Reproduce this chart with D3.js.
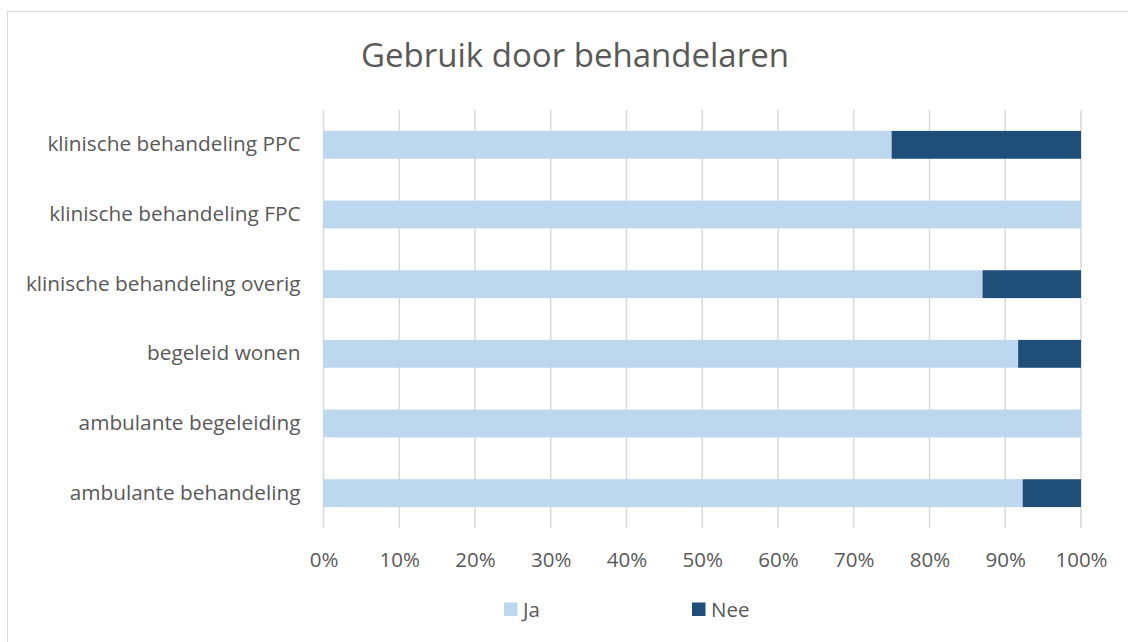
<!DOCTYPE html>
<html>
<head>
<meta charset="utf-8">
<script src="https://cdn.jsdelivr.net/npm/d3@7"></script>
<style>
  body { margin: 0; background: #fff; }
  text { font-family: "Open Sans", sans-serif; fill: #595959; }
</style>
</head>
<body>
<div id="chart"></div>
<script>
// data
const categories = [
  "klinische behandeling PPC",
  "klinische behandeling FPC",
  "klinische behandeling overig",
  "begeleid wonen",
  "ambulante begeleiding",
  "ambulante behandeling"
];
const ja = [0.75, 1.0, 0.87, 0.917, 1.0, 0.923];
const nee = [0.25, 0.0, 0.13, 0.083, 0.0, 0.077];
const seriesNames = ["Ja", "Nee"];
const ticks = [0, 0.1, 0.2, 0.3, 0.4, 0.5, 0.6, 0.7, 0.8, 0.9, 1.0];

// constants
const w = 1128;
const h = 642;
const plot = { left: 323.5, right: 1081, top: 110, bottom: 528 };
const colors = ["#bdd7ee", "#1f4e79"];

const svg = d3.select("#chart")
  .append("svg")
  .attr("width", w)
  .attr("height", h);

// chart border
svg.append("rect")
  .attr("x", 7.5)
  .attr("y", 11.5)
  .attr("width", w + 20)
  .attr("height", h + 20)
  .attr("fill", "#fff")
  .attr("stroke", "#d9d9d9");

// title
svg.append("text")
  .attr("x", 575)
  .attr("y", 67)
  .attr("text-anchor", "middle")
  .style("font-size", "33px")
  .text("Gebruik door behandelaren");

// scales
const xScale = d3.scaleLinear()
  .domain([0, 1])
  .range([plot.left, plot.right]);

const yScale = d3.scaleBand()
  .domain(categories)
  .range([plot.top, plot.bottom])
  .paddingInner(0.6)
  .paddingOuter(0.3);

// gridlines
svg.append("g")
  .selectAll("line")
  .data(ticks)
  .enter()
  .append("line")
  .attr("x1", (d) => xScale(d))
  .attr("x2", (d) => xScale(d))
  .attr("y1", plot.top)
  .attr("y2", plot.bottom)
  .attr("stroke", "#d9d9d9")
  .attr("stroke-width", 1.5);

// x axis labels
const xAxis = d3.axisBottom(xScale)
  .tickValues(ticks)
  .tickFormat(d3.format(".0%"))
  .tickSize(0)
  .tickPadding(0);
const gx = svg.append("g")
  .attr("transform", "translate(0," + (plot.bottom + 39) + ")")
  .call(xAxis);
gx.select(".domain").remove();
gx.selectAll("text")
  .attr("dy", 0)
  .attr("fill", "#595959")
  .style("font-size", "20.5px")
  .style("font-family", "Open Sans, sans-serif");

// y axis labels
const yAxis = d3.axisLeft(yScale).tickSize(0).tickPadding(23);
const gy = svg.append("g")
  .attr("transform", "translate(" + plot.left + ",0)")
  .call(yAxis);
gy.select(".domain").remove();
gy.selectAll("text")
  .attr("fill", "#595959")
  .style("font-size", "20.8px")
  .style("font-family", "Open Sans, sans-serif");

// stacked bars
const stacked = categories.map((c, i) => ({ cat: c, values: [ja[i], nee[i]] }));
const rows = svg.append("g")
  .selectAll("g")
  .data(stacked)
  .enter()
  .append("g");
rows.selectAll("rect")
  .data((d) => {
    let acc = 0;
    return d.values.map((v, k) => {
      const seg = { cat: d.cat, x0: acc, x1: acc + v, k: k };
      acc += v;
      return seg;
    });
  })
  .enter()
  .append("rect")
  .attr("x", (d) => xScale(d.x0))
  .attr("y", (d) => yScale(d.cat))
  .attr("width", (d) => xScale(d.x1) - xScale(d.x0))
  .attr("height", yScale.bandwidth())
  .attr("fill", (d) => colors[d.k]);

// legend
const legendX = [504, 692];
const legend = svg.append("g")
  .selectAll("g")
  .data(seriesNames)
  .enter()
  .append("g")
  .attr("transform", (d, i) => `translate(${legendX[i]}, 602.5)`);
legend.append("rect")
  .attr("width", 13.5)
  .attr("height", 13.5)
  .attr("fill", (d, i) => colors[i]);
legend.append("text")
  .attr("x", 19)
  .attr("y", 14.5)
  .style("font-size", "20.5px")
  .text((d) => d);
</script>
</body>
</html>
